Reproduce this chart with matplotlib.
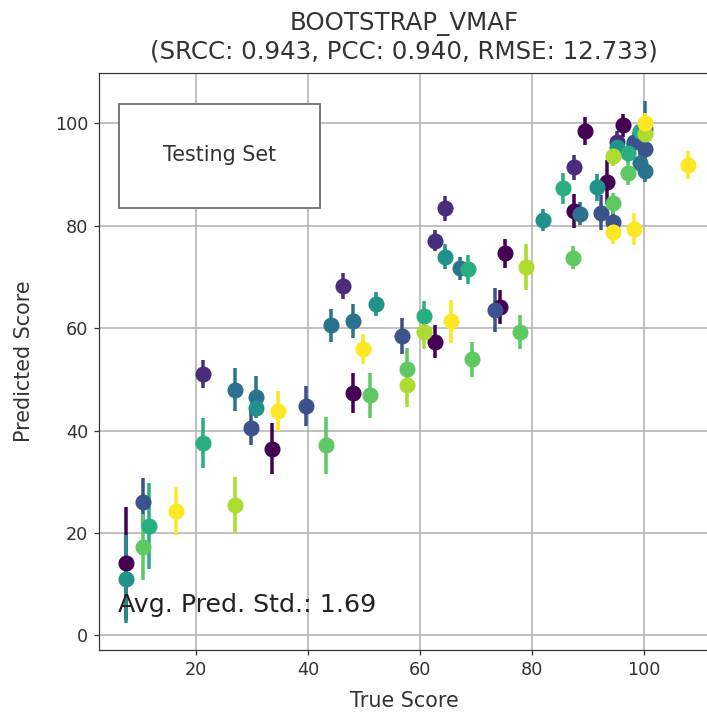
import numpy as np
import matplotlib
matplotlib.use('Agg')
import matplotlib.pyplot as plt
from matplotlib.patches import Rectangle

# values
true_score = [7.5, 7.5, 10.5, 10.5, 11.7, 16.4, 21.3, 21.3, 27.0, 27.0,
              30.8, 30.8, 29.9, 33.6, 34.7, 39.6, 43.2, 44.2, 48.0, 46.2,
              52.1, 48.1, 51.0, 49.9, 56.7, 57.7, 57.7, 60.7, 60.7, 62.7,
              65.5, 69.2, 64.5, 62.6, 64.5, 67.1, 68.5, 75.1, 78.9, 73.3,
              74.2, 77.9, 81.9, 87.3, 85.5, 89.5, 96.3, 100.2, 100.2, 99.2,
              100.2, 95.2, 98.2, 100.2, 95.1, 97.2, 94.4, 87.5, 99.2, 100.2,
              97.2, 107.8, 91.5, 93.4, 87.4, 88.6, 92.3, 94.5, 94.5, 94.5,
              98.2]
pred_score = [14.1, 11.1, 26.1, 17.3, 21.4, 24.3, 51.1, 37.5, 25.5, 48.0,
              46.6, 44.5, 40.6, 36.5, 43.9, 44.8, 37.1, 60.6, 61.4, 68.2,
              64.7, 47.4, 46.9, 56.0, 58.5, 52.1, 48.9, 62.4, 59.2, 57.4,
              61.4, 53.9, 83.4, 77.1, 74.0, 71.7, 71.5, 74.6, 72.0, 63.5,
              64.2, 59.3, 81.1, 73.8, 87.3, 98.5, 99.6, 100.0, 99.0, 98.5,
              97.9, 96.4, 96.4, 95.1, 95.3, 94.2, 93.7, 91.4, 92.2, 90.7,
              90.4, 91.9, 87.5, 88.6, 82.9, 82.4, 82.6, 84.4, 80.8, 78.8,
              79.4]
pred_std = [11.0, 8.6, 4.7, 6.5, 8.4, 4.7, 2.7, 4.9, 5.5, 4.2,
            4.0, 2.0, 3.5, 4.9, 3.9, 3.9, 5.5, 3.2, 3.3, 2.5,
            2.3, 3.9, 4.4, 2.9, 3.5, 4.1, 4.2, 2.9, 3.3, 3.2,
            4.2, 3.4, 2.5, 2.0, 2.5, 2.3, 2.8, 2.9, 4.5, 4.3,
            3.3, 3.3, 2.1, 2.2, 3.1, 2.8, 2.2, 2.0, 5.3, 2.0,
            2.0, 2.1, 2.0, 2.0, 2.0, 2.0, 2.0, 2.4, 2.0, 2.2,
            2.4, 2.8, 2.6, 4.3, 3.3, 2.3, 3.5, 2.1, 2.0, 2.4,
            3.1]
content_id = [0, 4, 2, 6, 5, 8, 1, 5, 7, 3,
              3, 4, 2, 0, 8, 2, 6, 3, 3, 1,
              4, 0, 6, 8, 2, 6, 7, 5, 7, 0,
              8, 6, 1, 1, 4, 3, 5, 0, 7, 2,
              0, 6, 4, 6, 5, 0, 0, 8, 3, 5,
              7, 1, 2, 2, 4, 5, 7, 1, 3, 3,
              6, 8, 4, 0, 0, 3, 2, 6, 2, 8,
              8]
n_content = 9

title = 'BOOTSTRAP_VMAF\n(SRCC: 0.943, PCC: 0.940, RMSE: 12.733)'
avg_std = 1.69

fig = plt.figure(figsize=(707 / 110, 713 / 110), dpi=110)
ax = fig.add_axes([0.140, 0.088, 0.863, 0.810])

cmap = plt.get_cmap('viridis')
colors = [cmap(i / (n_content - 1)) for i in range(n_content)]

for c in range(n_content):
    idx = [i for i in range(len(true_score)) if content_id[i] == c]
    ax.errorbar([true_score[i] for i in idx], [pred_score[i] for i in idx],
                yerr=[pred_std[i] for i in idx], fmt='o', color=colors[c],
                markersize=9.5, elinewidth=2.3, capsize=0)

ax.set_xlim(2.7, 111.6)
ax.set_ylim(-2.9, 109.9)
ax.set_xticks([20, 40, 60, 80, 100])
ax.set_yticks([0, 20, 40, 60, 80, 100])
ax.tick_params(labelsize=11.5, labelcolor='#333333', color='#333333')
ax.grid(True, color='#b0b0b0', linewidth=1.0)
ax.set_axisbelow(True)
ax.spines['right'].set_visible(False)
for s in ['left', 'bottom', 'top']:
    ax.spines[s].set_color('#333333')

ax.set_title(title, fontsize=16, color='#333333', pad=9)
ax.set_xlabel('True Score', fontsize=13.5, color='#333333', labelpad=8)
ax.set_ylabel('Predicted Score', fontsize=13.5, color='#333333', labelpad=14)

# box in the upper left
ax.add_patch(Rectangle((0.033, 0.766), 0.33, 0.18, transform=ax.transAxes,
                       facecolor='white', edgecolor='#707070', linewidth=1.2,
                       zorder=5))
ax.text(0.198, 0.858, 'Testing Set', transform=ax.transAxes, ha='center',
        va='center', fontsize=13.5, color='#333333', zorder=6)

ax.text(0.031, 0.066, 'Avg. Pred. Std.: %.2f' % avg_std, transform=ax.transAxes,
        fontsize=16.5, color='#222222', zorder=6)

fig.savefig('out.png', dpi=110)
